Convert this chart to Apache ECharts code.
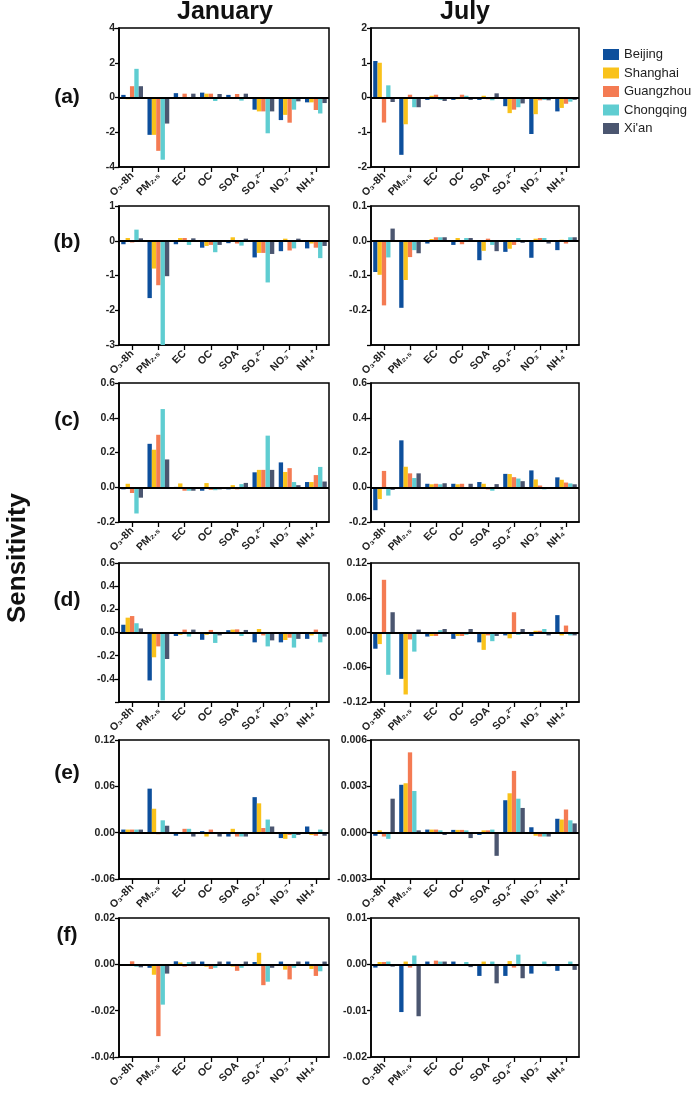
<!DOCTYPE html>
<html><head><meta charset="utf-8">
<script src="https://cdn.jsdelivr.net/npm/echarts@6/dist/echarts.min.js"></script>
<style>html,body{margin:0;padding:0;background:#fff}#c{width:693px;height:1096px}</style>
</head><body><div id="c"></div>
<script>
const categories = ['O₃-8h','PM₂.₅','EC','OC','SOA','SO₄²⁻','NO₃⁻','NH₄⁺'];
const cities = ['Beijing','Shanghai','Guangzhou','Chongqing',"Xi'an"];
const colors = ['#0d4f9c','#f9c21b','#f47b53','#5fcdd1','#4b5670'];

// rows: Beijing, Shanghai, Guangzhou, Chongqing, Xi'an ; columns follow categories
const aJan = [
  [0.15,-2.15,0.25,0.28,0.15,-0.7,-1.3,-0.28],
  [-0.1,-2.15,0.02,0.22,-0.05,-0.8,-1.0,-0.28],
  [0.65,-3.07,0.22,0.22,0.2,-0.8,-1.45,-0.72],
  [1.65,-3.58,-0.05,-0.2,-0.18,-2.06,-0.7,-0.92],
  [0.65,-1.5,0.22,0.2,0.22,-0.8,-0.22,-0.32]];
const aJul = [
  [1.05,-1.65,-0.07,-0.07,-0.07,-0.25,-1.05,-0.4],
  [1.0,-0.77,0.05,-0.05,0.05,-0.45,-0.48,-0.3],
  [-0.72,0.08,0.08,0.08,-0.05,-0.35,-0.08,-0.18],
  [0.35,-0.28,-0.07,0.05,-0.08,-0.28,-0.07,-0.12],
  [-0.13,-0.28,-0.1,-0.07,0.12,-0.17,-0.08,-0.07]];
const bJan = [
  [-0.1,-1.65,-0.1,-0.2,-0.07,-0.48,-0.3,-0.22],
  [0.08,-0.8,0.08,-0.15,0.1,-0.35,0.06,-0.08],
  [-0.05,-1.28,0.08,-0.12,-0.08,-0.35,-0.28,-0.2],
  [0.32,-3.0,-0.12,-0.33,-0.14,-1.2,-0.22,-0.5],
  [0.07,-1.02,0.07,-0.12,0.06,-0.38,0.06,-0.15]];
const bJul = [
  [-0.09,-0.193,-0.008,-0.012,-0.056,-0.032,-0.049,-0.027],
  [-0.098,-0.113,0.005,0.008,-0.029,-0.023,0.006,0.003],
  [-0.186,-0.047,0.01,-0.01,0.006,-0.012,0.008,-0.008],
  [-0.048,-0.027,0.01,0.008,-0.012,0.008,0.008,0.01],
  [0.035,-0.036,0.01,0.008,-0.03,-0.006,-0.008,0.01]];
const cJan = [
  [-0.012,0.25,0.002,-0.02,-0.012,0.086,0.143,0.03],
  [0.02,0.216,0.022,0.024,0.012,0.1,0.088,0.03],
  [-0.033,0.302,-0.02,-0.015,-0.012,0.1,0.11,0.07],
  [-0.151,0.45,-0.02,-0.017,0.018,0.297,0.03,0.117],
  [-0.06,0.16,-0.02,-0.012,0.025,0.1,0.012,0.033]];
const cJul = [
  [-0.132,0.27,0.02,0.02,0.03,0.077,0.097,0.057],
  [-0.068,0.118,0.017,0.017,0.02,0.076,0.045,0.043],
  [0.094,0.08,0.02,0.02,-0.012,0.058,0.01,0.027],
  [-0.048,0.053,0.017,-0.01,-0.02,0.05,-0.012,0.022],
  [-0.015,0.08,0.023,0.02,0.018,0.035,-0.008,0.017]];
const dJan = [
  [0.067,-0.414,-0.03,-0.063,0.02,-0.085,-0.085,-0.055],
  [0.128,-0.214,-0.02,-0.02,0.025,0.03,-0.065,-0.025],
  [0.142,-0.12,0.025,0.022,0.027,-0.025,-0.045,0.025],
  [0.08,-0.585,-0.035,-0.09,-0.03,-0.12,-0.13,-0.085],
  [0.035,-0.229,0.025,-0.025,0.022,-0.068,-0.055,-0.035]];
const dJul = [
  [-0.028,-0.08,-0.007,-0.011,-0.017,-0.005,-0.006,0.03],
  [-0.02,-0.107,-0.006,-0.006,-0.03,-0.01,0.003,-0.005],
  [0.091,-0.012,-0.006,-0.006,-0.005,0.035,0.003,0.012],
  [-0.073,-0.033,0.004,-0.004,-0.015,-0.004,0.006,-0.005],
  [0.035,0.005,0.006,0.006,-0.006,0.006,-0.005,-0.005]];
const eJan = [
  [0.004,0.057,-0.004,0.002,-0.005,0.046,-0.007,0.008],
  [0.004,0.031,0.0005,-0.005,0.005,0.038,-0.008,-0.003],
  [0.004,-0.002,0.005,0.004,-0.005,0.006,-0.003,-0.004],
  [0.004,0.016,0.005,0.0005,-0.005,0.017,-0.007,0.004],
  [0.004,0.009,-0.005,-0.005,-0.005,0.008,-0.003,-0.004]];
const eJul = [
  [-0.0002,0.0031,0.0002,0.00018,-0.00015,0.0021,0.00035,0.0009],
  [0.00015,0.0032,0.0002,0.00018,0.00015,0.00255,-0.0002,0.00085],
  [-0.00025,0.0052,0.0002,0.00018,0.00015,0.004,-0.00025,0.0015],
  [-0.0004,0.0027,0.00015,0.00015,0.0002,0.0022,-0.00025,0.0008],
  [0.0022,0.00015,-0.00015,-0.00035,-0.0015,0.0016,-0.00025,0.0006]];
const fJan = [
  [0.0,-0.0015,0.0013,0.0012,0.0012,0.001,0.0012,0.0012],
  [0.0,-0.0045,0.0008,-0.001,-0.001,0.005,-0.0023,-0.002],
  [0.0013,-0.031,-0.001,-0.002,-0.0028,-0.009,-0.0065,-0.005],
  [-0.001,-0.0174,0.001,-0.0015,-0.0015,-0.0075,-0.0015,-0.003],
  [-0.0013,-0.004,0.0012,0.0012,0.0012,-0.0015,0.0012,0.0012]];
const fJul = [
  [-0.0007,-0.0103,0.0006,0.0006,-0.0025,-0.0025,-0.002,-0.0014],
  [0.0005,0.0006,0.0,0.0,0.0006,0.0007,0.0,0.0],
  [0.0005,-0.0007,0.0008,0.0,0.0,-0.0007,0.0,0.0],
  [0.0006,0.0019,0.0006,0.0005,0.0006,0.0021,0.0006,0.0006],
  [-0.0005,-0.0112,0.0006,-0.0006,-0.0041,-0.003,-0.0004,-0.0012]];

// y-axis scales per panel: [min, max, interval, decimals, hideMinLabel]
const yJan = [[-4,4,2,0,false],[-3,1,1,0,false],[-0.2,0.6,0.2,1,false],[-0.6,0.6,0.2,1,true],[-0.06,0.12,0.06,2,false],[-0.04,0.02,0.02,2,false]];
const yJul = [[-2,2,1,0,false],[-0.3,0.1,0.1,1,true],[-0.2,0.6,0.2,1,false],[-0.12,0.12,0.06,2,false],[-0.003,0.006,0.003,3,false],[-0.02,0.01,0.01,2,false]];
const panelLabels = ['(a)','(b)','(c)','(d)','(e)','(f)'];

const janData = [aJan,bJan,cJan,dJan,eJan,fJan];
const julData = [aJul,bJul,cJul,dJul,eJul,fJul];

const tops = [28,206,383,563,740,918];
const labelY = [97,242,420,600,773,935];
const FONT = 'Liberation Sans, Arial, sans-serif';

const grids=[], xAxes=[], yAxes=[], series=[];
function addPanel(data, ys, left, width, top){
  const idx = grids.length;
  grids.push({left:left, top:top, width:width, height:139, show:true, borderColor:'#000', borderWidth:1.5, backgroundColor:'transparent'});
  xAxes.push({type:'category', gridIndex:idx, data:categories,
    axisLine:{show:true, onZero:false, lineStyle:{color:'#000', width:1.6}},
    axisTick:{show:true, alignWithLabel:true, length:5, lineStyle:{color:'#000', width:1.3}},
    axisLabel:{rotate:45, fontFamily:FONT, fontWeight:'bold', fontSize:10.5, color:'#222', margin:7}});
  const [mn,mx,iv,dec,hide] = ys;
  yAxes.push({type:'value', gridIndex:idx, min:mn, max:mx, interval:iv,
    axisLine:{show:true, lineStyle:{color:'#000', width:1.6}},
    axisTick:{show:true, length:4, lineStyle:{color:'#000', width:1.3}},
    splitLine:{show:false},
    axisLabel:{fontFamily:FONT, fontWeight:'bold', fontSize:10.5, color:'#222', margin:4,
      formatter:function(v){ if(hide && Math.abs(v-mn)<1e-12) return ''; return v.toFixed(dec);} }});
  data.forEach((row,ci)=>{
    const s = {type:'bar', name:cities[ci], xAxisIndex:idx, yAxisIndex:idx, data:row,
      itemStyle:{color:colors[ci]}, barGap:'0%', barCategoryGap:'17%', silent:true, animation:false};
    if(ci===4){
      s.markLine = {silent:true, symbol:'none', animation:false, z:10,
        label:{show:false}, lineStyle:{color:'#000', width:2, type:'solid'}, data:[{yAxis:0}]};
    }
    series.push(s);
  });
}
for(let i=0;i<6;i++){
  addPanel(janData[i], yJan[i], 119, 210, tops[i]);
  addPanel(julData[i], yJul[i], 371, 208, tops[i]);
}

const graphics = [
  {type:'text', left:177, top:0, style:{text:'January', font:'bold 25px '+FONT, fill:'#111'}},
  {type:'text', left:440, top:0, style:{text:'July', font:'bold 25px '+FONT, fill:'#111'}},
  {type:'text', x:18, y:558, rotation:Math.PI/2, style:{text:'Sensitivity', font:'bold 26px '+FONT, fill:'#111', align:'center', verticalAlign:'middle'}}
];
panelLabels.forEach((t,i)=>{
  graphics.push({type:'text', x:67, y:labelY[i], style:{text:t, font:'bold 21px '+FONT, fill:'#111', align:'center', verticalAlign:'middle'}});
});

const chart = echarts.init(document.getElementById('c'), null, {renderer:'canvas'});
chart.setOption({
  animation:false,
  color:colors,
  legend:{data:cities, orient:'vertical', left:598, top:43, itemWidth:16, itemHeight:11, itemGap:5.5,
    icon:'rect', textStyle:{fontFamily:FONT, fontSize:13, color:'#222', padding:[0,0,0,0]}},
  grid:grids, xAxis:xAxes, yAxis:yAxes, series:series, graphic:graphics
});
</script></body></html>
